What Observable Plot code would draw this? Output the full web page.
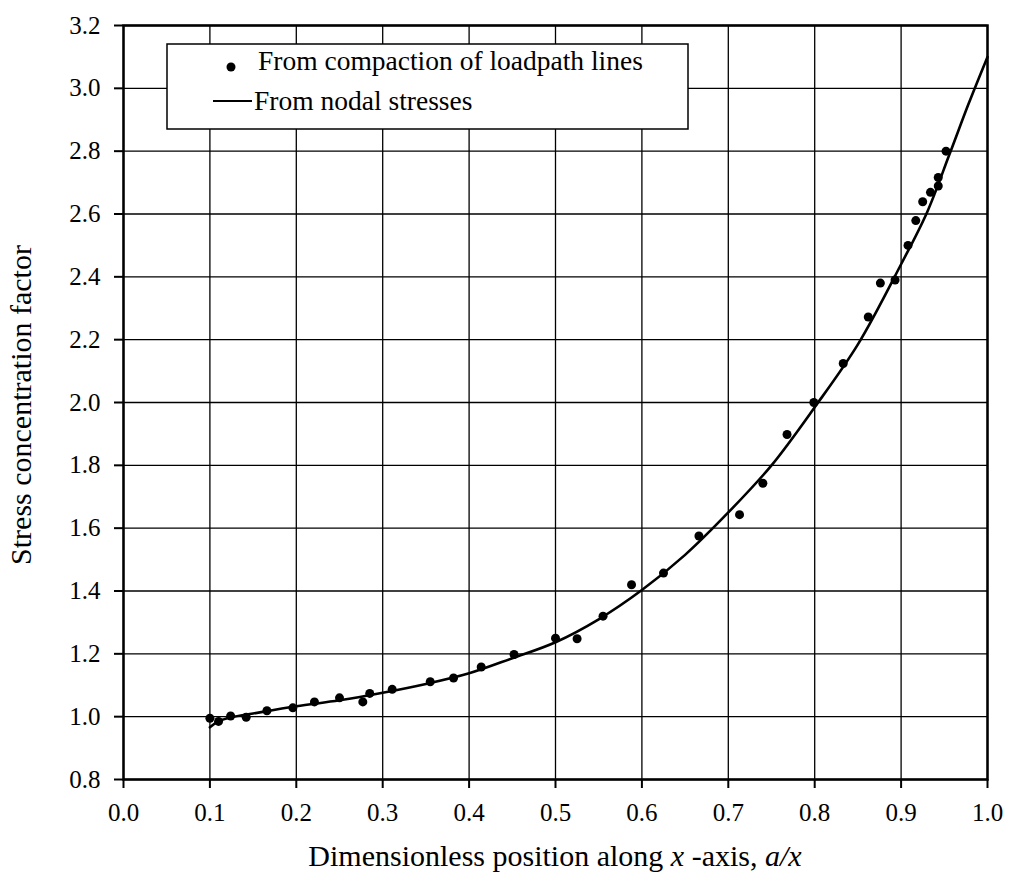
<!DOCTYPE html>
<html>
<head>
<meta charset="utf-8">
<script src="https://cdn.jsdelivr.net/npm/d3@7"></script>
<script src="https://cdn.jsdelivr.net/npm/@observablehq/plot@0.6"></script>
<style>
  html, body { margin: 0; padding: 0; background: white; overflow: hidden; }
  #chart svg { display: block; }
</style>
</head>
<body>
<div id="chart"></div>
<script>
// Scatter: "From compaction of loadpath lines"
const ptX = [0.100, 0.110, 0.124, 0.142, 0.166, 0.196, 0.221, 0.250, 0.277, 0.285,
             0.311, 0.355, 0.382, 0.414, 0.452, 0.500, 0.525, 0.555, 0.588, 0.625,
             0.666, 0.713, 0.740, 0.768, 0.799, 0.833, 0.862, 0.876, 0.893, 0.908,
             0.917, 0.925, 0.934, 0.943, 0.943, 0.952];
const ptY = [0.995, 0.985, 1.002, 0.998, 1.019, 1.028, 1.047, 1.060, 1.047, 1.074,
             1.087, 1.111, 1.123, 1.158, 1.198, 1.250, 1.248, 1.320, 1.420, 1.457,
             1.575, 1.643, 1.743, 1.898, 2.000, 2.124, 2.272, 2.380, 2.390, 2.500,
             2.579, 2.639, 2.669, 2.716, 2.689, 2.800];

// Line: "From nodal stresses"
const lnX = [0.100, 0.110, 0.125, 0.150, 0.200, 0.250, 0.300, 0.350, 0.400, 0.450,
             0.500, 0.550, 0.600, 0.650, 0.700, 0.750, 0.800, 0.850, 0.900, 0.930,
             0.956, 0.978, 1.000];
const lnY = [0.966, 0.985, 0.998, 1.010, 1.033, 1.052, 1.076, 1.104, 1.138, 1.186,
             1.237, 1.310, 1.403, 1.515, 1.650, 1.800, 1.985, 2.185, 2.440, 2.605,
             2.790, 2.950, 3.100];

const xTicks = [0.0, 0.1, 0.2, 0.3, 0.4, 0.5, 0.6, 0.7, 0.8, 0.9, 1.0];
const yTicks = [0.8, 1.0, 1.2, 1.4, 1.6, 1.8, 2.0, 2.2, 2.4, 2.6, 2.8, 3.0, 3.2];

const legendLabels = ["From compaction of loadpath lines", "From nodal stresses"];
const xLabelParts = [["Dimensionless position along ", false], ["x", true], [" -axis, ", false], ["a/x", true]];
const yLabel = "Stress concentration factor";

const points = ptX.map((x, i) => ({x, y: ptY[i]}));
const curve = lnX.map((x, i) => ({x, y: lnY[i]}));

const FONT = "'Liberation Serif', 'Times New Roman', Times, serif";

const chart = Plot.plot({
  width: 1009,
  height: 881,
  marginLeft: 123,
  marginRight: 22,
  marginTop: 25,
  marginBottom: 102,
  style: {fontFamily: FONT, fontSize: "25px", color: "black", background: "white"},
  x: {domain: [0, 1], label: null},
  y: {domain: [0.8, 3.2], label: null},
  marks: [
    Plot.gridX(xTicks, {stroke: "black", strokeOpacity: 1, strokeWidth: 1.3}),
    Plot.gridY(yTicks, {stroke: "black", strokeOpacity: 1, strokeWidth: 1.3}),
    Plot.frame({stroke: "black", strokeWidth: 2.5}),
    Plot.axisX({ticks: xTicks, tickFormat: d => d.toFixed(1), tickSize: 9, tickPadding: 15,
                strokeWidth: 2, fontSize: 25, label: null}),
    Plot.axisY({ticks: yTicks, tickFormat: d => d.toFixed(1), tickSize: 9, tickPadding: 14,
                strokeWidth: 2, fontSize: 25, label: null}),
    Plot.line(curve, {x: "x", y: "y", curve: "catmull-rom", stroke: "black", strokeWidth: 2.6}),
    Plot.dot(points, {x: "x", y: "y", r: 4.5, fill: "black", stroke: "none"})
  ]
});

document.getElementById("chart").appendChild(chart);

const svg = d3.select(chart);

// Legend box
const lg = svg.append("g").attr("font-family", FONT).attr("fill", "black")
  .attr("text-anchor", "start");
lg.append("rect").attr("x", 167).attr("y", 44).attr("width", 521).attr("height", 85)
  .attr("fill", "white").attr("stroke", "black").attr("stroke-width", 1.5);
lg.append("circle").attr("cx", 231).attr("cy", 67).attr("r", 4.5).attr("fill", "black");
lg.append("line").attr("x1", 213).attr("x2", 252).attr("y1", 101).attr("y2", 101)
  .attr("stroke", "black").attr("stroke-width", 2);
lg.append("text").attr("x", 258).attr("y", 70).attr("font-size", 27.5).text(legendLabels[0]);
lg.append("text").attr("x", 254).attr("y", 110).attr("font-size", 27.5).text(legendLabels[1]);

// X axis title
const xt = svg.append("text").attr("x", 555).attr("y", 866).attr("text-anchor", "middle")
  .attr("font-family", FONT).attr("font-size", 30).attr("fill", "black");
xLabelParts.forEach(([t, it]) => {
  xt.append("tspan").attr("font-style", it ? "italic" : "normal").text(t);
});

// Y axis title
svg.append("text").attr("transform", "translate(31,405) rotate(-90)")
  .attr("text-anchor", "middle").attr("font-family", FONT).attr("font-size", 30)
  .attr("fill", "black").text(yLabel);
</script>
</body>
</html>
